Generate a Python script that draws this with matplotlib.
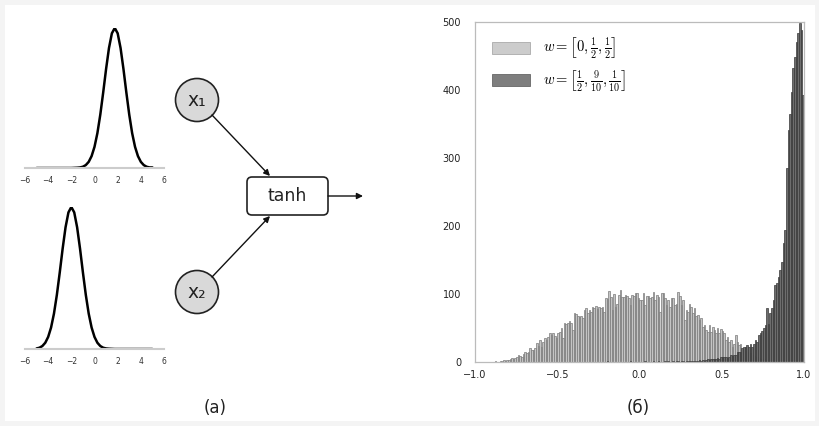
import numpy as np
import matplotlib
matplotlib.use("Agg")
from matplotlib import pyplot as plt
from matplotlib.patches import Circle, FancyBboxPatch, Rectangle, Patch

plt.rcParams['font.family'] = ['DejaVu Sans']
plt.rcParams['mathtext.fontset'] = 'cm'

# left panel: input densities (x step 0.25 from -5 to 5)
curve_x = np.arange(-5, 5.001, 0.25)
density_x1 = [0, 0, 0, 0, 0, 0, 0, 0, 0, 0, 0, 0, 0, 0.001, 0.002, 0.004, 0.009,
              0.021, 0.044, 0.085, 0.151, 0.249, 0.381, 0.539, 0.707, 0.857, 0.962,
              1.0, 0.962, 0.857, 0.707, 0.539, 0.381, 0.249, 0.151, 0.085, 0.044,
              0.021, 0.009, 0.004, 0.004]
density_x2 = [0.004, 0.009, 0.021, 0.044, 0.085, 0.151, 0.249, 0.381, 0.539, 0.707,
              0.857, 0.962, 1.0, 0.962, 0.857, 0.707, 0.539, 0.381, 0.249, 0.151,
              0.085, 0.044, 0.021, 0.009, 0.004, 0.002, 0.001, 0, 0, 0, 0, 0, 0, 0,
              0, 0, 0, 0, 0, 0, 0]
curve_ticks = [-6, -4, -2, 0, 2, 4, 6]

# right panel: histogram counts, 200 bins of width 0.01 on [-1, 1]
bin_edges = np.linspace(-1, 1, 201)
counts_a = [0, 0, 0, 0, 0, 0, 0, 0, 0, 0, 0, 0, 1, 0, 0, 1, 2, 3, 2, 3,
            3, 4, 6, 5, 6, 7, 10, 9, 8, 12, 14, 13, 15, 20, 17, 18, 20, 28, 24, 32,
            22, 30, 35, 33, 37, 42, 40, 42, 38, 35, 42, 44, 50, 35, 58, 56, 58, 60, 57, 47,
            72, 70, 68, 66, 68, 64, 76, 79, 72, 76, 74, 81, 80, 82, 78, 81, 80, 81, 73, 94,
            92, 105, 95, 77, 100, 81, 86, 98, 106, 96, 95, 98, 97, 94, 84, 98, 97, 102, 101, 94,
            91, 91, 101, 84, 97, 97, 94, 96, 103, 91, 98, 96, 73, 101, 101, 94, 84, 91, 81, 94,
            94, 84, 86, 103, 97, 84, 91, 62, 76, 73, 85, 81, 72, 79, 67, 69, 62, 64, 52, 54,
            47, 44, 54, 44, 52, 47, 42, 50, 42, 48, 46, 42, 32, 37, 30, 32, 22, 27, 40, 30,
            25, 27, 17, 18, 16, 14, 12, 13, 10, 9, 8, 8, 6, 5, 5, 4, 3, 3, 2, 2,
            2, 1, 1, 1, 0, 1, 0, 0, 0, 0, 0, 0, 0, 0, 0, 0, 0, 0, 0, 0]
counts_b = [0, 0, 0, 0, 0, 0, 0, 0, 0, 0, 0, 0, 0, 0, 0, 0, 0, 0, 0, 0,
            0, 0, 0, 0, 0, 0, 0, 0, 0, 0, 0, 0, 0, 0, 0, 0, 0, 0, 0, 0,
            0, 0, 0, 0, 0, 0, 0, 0, 0, 0, 0, 0, 0, 0, 0, 0, 0, 0, 0, 0,
            0, 0, 0, 0, 0, 0, 0, 0, 0, 0, 0, 0, 0, 0, 0, 0, 0, 0, 0, 0,
            1, 0, 0, 0, 0, 0, 0, 0, 0, 0, 0, 0, 0, 0, 1, 0, 0, 0, 0, 0,
            0, 0, 0, 1, 0, 0, 0, 0, 1, 0, 0, 1, 0, 0, 0, 1, 0, 1, 0, 0,
            1, 0, 1, 1, 0, 1, 1, 0, 1, 1, 1, 1, 2, 1, 2, 2, 3, 2, 3, 2,
            3, 4, 3, 4, 5, 4, 5, 6, 5, 7, 8, 7, 8, 6, 8, 10, 9, 10, 11, 15,
            14, 15, 20, 22, 22, 25, 22, 27, 22, 27, 32, 30, 40, 42, 45, 50, 54, 79, 56, 72,
            79, 91, 113, 116, 125, 135, 147, 175, 194, 285, 341, 365, 397, 432, 449, 470, 484, 498, 488, 393]
labels = [r'$w = \left[0, \frac{1}{2}, \frac{1}{2}\right]$',
          r'$w = \left[\frac{1}{2}, \frac{9}{10}, \frac{1}{10}\right]$']
hist_xticks = [-1.0, -0.5, 0.0, 0.5, 1.0]
hist_yticks = [0, 100, 200, 300, 400, 500]

W, H = 820, 426
fig = plt.figure(figsize=(W / 100, H / 100), dpi=100)
fig.patch.set_facecolor('#f4f4f4')

# overlay in pixel units for the diagram
ov = fig.add_axes([0, 0, 1, 1])
ov.set_xlim(0, W)
ov.set_ylim(H, 0)
ov.axis('off')
ov.add_patch(Rectangle((5, 5), W - 10, H - 10, facecolor='white', edgecolor='none', zorder=0))

for cy, lab in [(100, 'x₁'), (292, 'x₂')]:
    ov.add_patch(Circle((197, cy), 21.5, facecolor='#d9d9d9', edgecolor='#222222', lw=1.2, zorder=2))
    ov.text(197, cy + 1, lab, ha='center', va='center', fontsize=13.5, color='#222222', zorder=3)

ov.add_patch(FancyBboxPatch((247, 177), 81, 38, boxstyle='round,pad=0,rounding_size=5',
                            facecolor='white', edgecolor='#222222', lw=1.2, zorder=2))
ov.text(287.5, 196, 'tanh', ha='center', va='center', fontsize=12.5, color='#222222', zorder=3)

arrow = dict(arrowstyle='-|>', lw=1.0, color='#111111', mutation_scale=9, shrinkA=0, shrinkB=0)
ov.annotate('', xy=(270, 176), xytext=(212, 115), arrowprops=arrow)
ov.annotate('', xy=(270, 216), xytext=(212, 277), arrowprops=arrow)
ov.annotate('', xy=(363, 196), xytext=(328, 196), arrowprops=arrow)

ov.text(215, 408, '(a)', ha='center', va='center', fontsize=12, color='#222222')
ov.text(638, 408, '(б)', ha='center', va='center', fontsize=12, color='#222222')


def density_axes(rect, ys):
    ax = fig.add_axes(rect)
    ax.set_facecolor('none')
    ax.plot(curve_x, ys, color='black', lw=1.8, solid_capstyle='round')
    ax.set_xlim(-6, 6)
    ax.set_ylim(0, 1.0)
    for s in ['top', 'right', 'left']:
        ax.spines[s].set_visible(False)
    ax.spines['bottom'].set_color('#cccccc')
    ax.spines['bottom'].set_linewidth(1.5)
    ax.set_yticks([])
    ax.set_xticks(curve_ticks)
    ax.set_xticklabels(['−6', '−4', '−2', '0', '2', '4', '6'])
    ax.tick_params(axis='x', length=0, pad=6, labelsize=5.5, labelcolor='#333333')
    return ax


density_axes([25 / W, 1 - 168 / H, 139 / W, 140 / H], density_x1)
density_axes([25 / W, 1 - 349 / H, 139 / W, 142 / H], density_x2)

# histogram
ax = fig.add_axes([475 / W, 1 - 362 / H, 329 / W, 340 / H])
ax.set_facecolor('white')
ax.bar(bin_edges[:-1], counts_a, width=0.01, align='edge', facecolor='#c4c4c4',
       edgecolor='#7a7a7a', lw=0.5, label=labels[0])
ax.bar(bin_edges[:-1], counts_b, width=0.01, align='edge', facecolor='#6e6e6e',
       edgecolor='#383838', lw=0.5, label=labels[1])
ax.set_xlim(-1, 1)
ax.set_ylim(0, 500)
ax.set_xticks(hist_xticks)
ax.set_xticklabels(['−1.0', '−0.5', '0.0', '0.5', '1.0'])
ax.set_yticks(hist_yticks)
ax.tick_params(length=0, labelsize=7, labelcolor='#222222')
ax.tick_params(axis='x', pad=6)
ax.tick_params(axis='y', pad=10)
for s in ax.spines.values():
    s.set_color('#bbbbbb')
    s.set_linewidth(0.9)

handles = [Patch(facecolor='#cccccc', edgecolor='#aaaaaa', lw=0.6),
           Patch(facecolor='#7e7e7e', edgecolor='#666666', lw=0.6)]
ax.legend(handles, labels, loc='upper left', bbox_to_anchor=(0.035, 0.975), frameon=False,
          fontsize=10.5, handlelength=2.6, handleheight=0.85, handletextpad=0.9,
          labelspacing=0.5, borderaxespad=0)

fig.savefig('out.png', dpi=100, facecolor=fig.get_facecolor())
